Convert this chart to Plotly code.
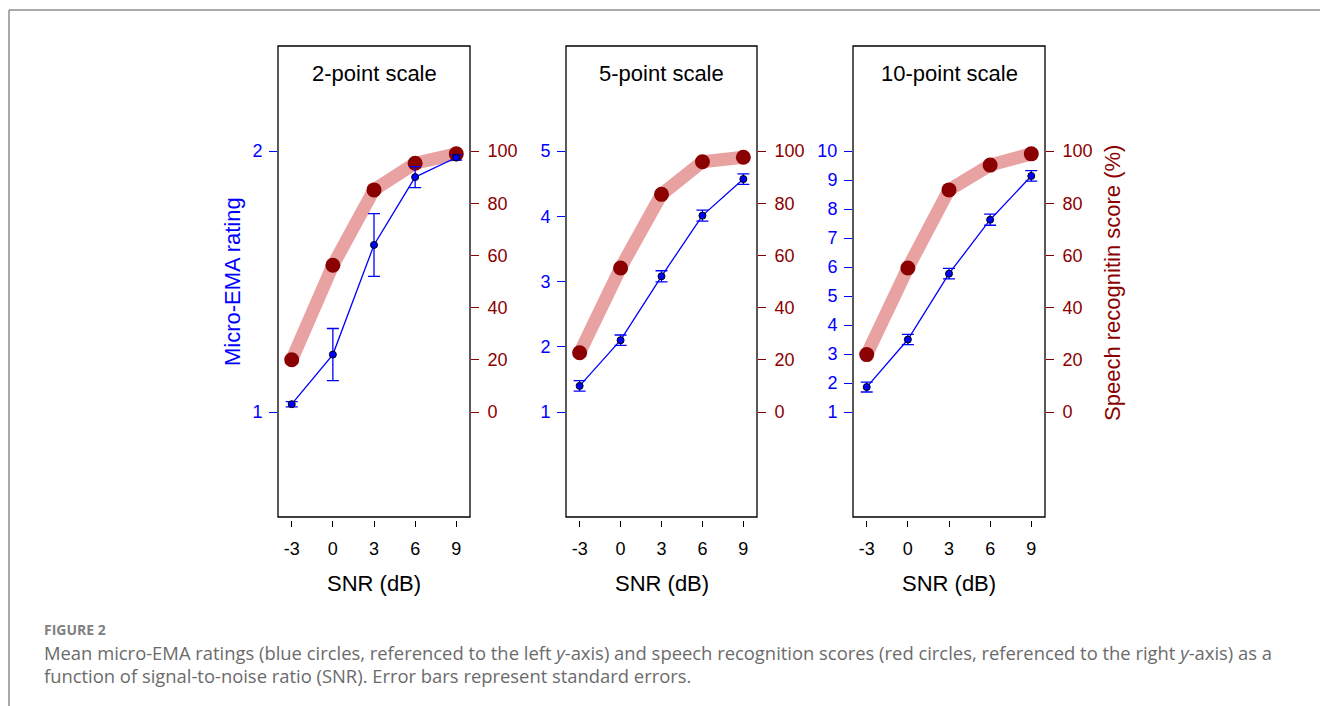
import plotly.graph_objects as go

# ---------------- data ----------------
snr = [-3, 0, 3, 6, 9]
snr_labels = ["-3", "0", "3", "6", "9"]
panel_titles = ["2-point scale", "5-point scale", "10-point scale"]

ema_2pt = [1.03, 1.22, 1.64, 1.90, 1.975]
ema_2pt_se = [0.01, 0.10, 0.12, 0.04, 0.01]
ema_5pt = [1.40, 2.10, 3.08, 4.01, 4.57]
ema_5pt_se = [0.08, 0.08, 0.085, 0.085, 0.08]
ema_10pt = [1.86, 3.50, 5.77, 7.63, 9.14]
ema_10pt_se = [0.17, 0.18, 0.18, 0.19, 0.18]

speech_2pt = [20.0, 56.2, 85.1, 95.3, 98.9]
speech_5pt = [22.7, 55.2, 83.4, 95.9, 97.6]
speech_10pt = [22.0, 55.2, 85.1, 94.6, 98.9]

left_ticks_2pt = [1, 2]
left_ticks_5pt = [1, 2, 3, 4, 5]
left_ticks_10pt = [1, 2, 3, 4, 5, 6, 7, 8, 9, 10]
right_ticks = [0, 20, 40, 60, 80, 100]

# ---------------- style ----------------
W, H = 1320, 706
FONT = "Liberation Sans, Arial, sans-serif"
BLUE = "#0000FF"
DRED = "#8B0000"
PINK = "#E8A2A2"

panels = [
    (ema_2pt, ema_2pt_se, speech_2pt, left_ticks_2pt, (278, 470)),
    (ema_5pt, ema_5pt_se, speech_5pt, left_ticks_5pt, (566, 757)),
    (ema_10pt, ema_10pt_se, speech_10pt, left_ticks_10pt, (853, 1045)),
]
box_top, box_bot = 46, 517
pad = 105.0 / 261.0  # fraction of tick span above/below

def py(p):
    return 1 - p / H

fig = go.Figure()
layout = dict(
    width=W, height=H,
    margin=dict(l=0, r=0, t=0, b=0),
    paper_bgcolor="white", plot_bgcolor="white",
    showlegend=False,
    font=dict(family=FONT, size=18),
)
shapes = []
annotations = []

for i, (ema, se, speech, lticks, (xl, xr)) in enumerate(panels):
    xa = "x" if i == 0 else f"x{i+1}"
    base_n = 2 * i + 1       # right axis (base)
    over_n = 2 * i + 2       # left axis (overlay)
    ya_base = "y" if base_n == 1 else f"y{base_n}"
    ya_over = f"y{over_n}"

    tmin, tmax = lticks[0], lticks[-1]
    span = tmax - tmin
    lrange = [tmin - pad * span, tmax + pad * span]
    rrange = [-pad * 100, 100 + pad * 100]

    # speech (red) on base/right axis
    fig.add_trace(go.Scatter(
        x=snr, y=speech, mode="lines", xaxis=xa, yaxis=ya_base,
        line=dict(color=PINK, width=13), hoverinfo="skip"))
    fig.add_trace(go.Scatter(
        x=snr, y=speech, mode="markers", xaxis=xa, yaxis=ya_base,
        marker=dict(color=DRED, size=15, line=dict(width=0))))
    # ema (blue) on overlay/left axis
    fig.add_trace(go.Scatter(
        x=snr, y=ema, mode="lines+markers", xaxis=xa, yaxis=ya_over,
        line=dict(color=BLUE, width=1.3),
        marker=dict(color=BLUE, size=7, line=dict(color="black", width=1)),
        error_y=dict(type="data", array=se, visible=True,
                     color=BLUE, thickness=1.3, width=6)))

    dom = [xl / W, xr / W]
    layout["xaxis" if i == 0 else f"xaxis{i+1}"] = dict(
        domain=dom, range=[-4, 10], anchor="free", position=py(520),
        tickvals=snr, ticktext=snr_labels, ticks="outside", ticklen=6,
        tickwidth=1.2, tickcolor="black", showline=False, showgrid=False,
        zeroline=False, tickfont=dict(family=FONT, size=18, color="black"),
        ticklabelstandoff=6)
    layout["yaxis" if base_n == 1 else f"yaxis{base_n}"] = dict(
        domain=[py(box_bot), py(box_top)], anchor=xa, side="right",
        range=rrange, tickvals=right_ticks, ticks="outside", ticklen=8,
        tickwidth=1.2, tickcolor=DRED, showline=False, showgrid=False,
        zeroline=False, tickfont=dict(family=FONT, size=18, color=DRED),
        ticklabelstandoff=5)
    layout[f"yaxis{over_n}"] = dict(
        overlaying=ya_base, anchor=xa, side="left",
        range=lrange, tickvals=lticks, ticks="outside", ticklen=8,
        tickwidth=1.2, tickcolor=BLUE, showline=False, showgrid=False,
        zeroline=False, tickfont=dict(family=FONT, size=18, color=BLUE),
        ticklabelstandoff=3)

    shapes.append(dict(type="rect", xref=f"{xa} domain", yref=f"{ya_base} domain",
                       x0=0, x1=1, y0=0, y1=1, line=dict(color="black", width=1.3),
                       layer="above"))
    cx = (xl + xr) / 2 / W
    annotations.append(dict(text=panel_titles[i], x=cx, y=py(74), xref="paper",
                            yref="paper", showarrow=False, xanchor="center",
                            yanchor="middle",
                            font=dict(family=FONT, size=22, color="black")))
    annotations.append(dict(text="SNR (dB)", x=cx, y=py(583), xref="paper",
                            yref="paper", showarrow=False, xanchor="center",
                            yanchor="middle",
                            font=dict(family=FONT, size=22, color="black")))

annotations.append(dict(text="Micro-EMA rating", x=232 / W, y=py(282), xref="paper",
                        yref="paper", showarrow=False, textangle=-90,
                        xanchor="center", yanchor="middle",
                        font=dict(family=FONT, size=22, color=BLUE)))
annotations.append(dict(text="Speech recognitin score (%)", x=1112 / W, y=py(283),
                        xref="paper", yref="paper", showarrow=False, textangle=-90,
                        xanchor="center", yanchor="middle",
                        font=dict(family=FONT, size=22, color=DRED)))

# caption
CAP = "Open Sans, Noto Sans, sans-serif"
annotations.append(dict(text="<b>FIGURE 2</b>", x=42 / W, y=py(629), xref="paper",
                        yref="paper", showarrow=False, xanchor="left",
                        yanchor="middle", font=dict(family=CAP, size=14, color="#808080")))
annotations.append(dict(
    text="Mean micro-EMA ratings (blue circles, referenced to the left <i>y</i>-axis) and speech recognition scores (red circles, referenced to the right <i>y</i>-axis) as a",
    x=42 / W, y=py(652), xref="paper", yref="paper", showarrow=False,
    xanchor="left", yanchor="middle", font=dict(family=CAP, size=18.4, color="#6b6b6b")))
annotations.append(dict(
    text="function of signal-to-noise ratio (SNR). Error bars represent standard errors.",
    x=42 / W, y=py(675), xref="paper", yref="paper", showarrow=False,
    xanchor="left", yanchor="middle", font=dict(family=CAP, size=18.4, color="#6b6b6b")))

# page frame lines
shapes.append(dict(type="line", xref="paper", yref="paper", x0=9 / W, x1=1,
                   y0=py(10), y1=py(10), line=dict(color="#8c8c8c", width=1.5)))
shapes.append(dict(type="line", xref="paper", yref="paper", x0=9 / W, x1=9 / W,
                   y0=py(10), y1=0, line=dict(color="#8c8c8c", width=1.5)))

layout["shapes"] = shapes
layout["annotations"] = annotations
fig.update_layout(**layout)
fig.write_html("out.html", config={"displayModeBar": False},
               post_script="document.body.style.margin='0';document.body.style.overflow='hidden';")
